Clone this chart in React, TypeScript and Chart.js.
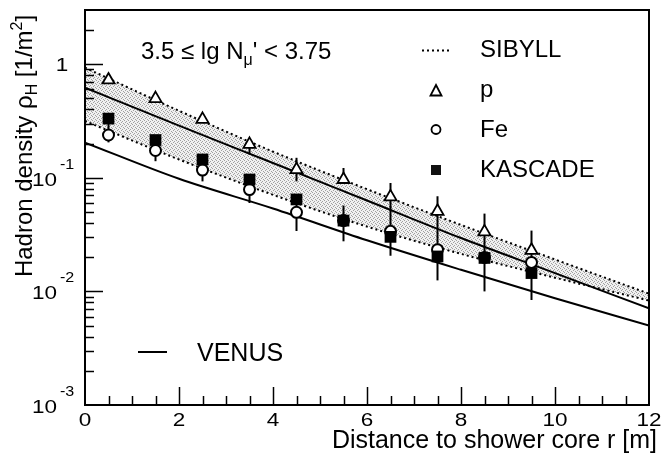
import React, { useEffect, useRef } from 'react';
import { Chart, registerables } from 'chart.js';

Chart.register(...registerables);

// ---------- data ----------
const rKnots = [0, 2, 4, 6, 8, 10, 12];
const sibyllP = [0.933, 0.389, 0.17, 0.0794, 0.0385, 0.0191, 0.00955];
const sibyllFe = [0.316, 0.145, 0.0708, 0.0372, 0.0214, 0.0132, 0.0083];
const venusP = [0.62, 0.288, 0.135, 0.0631, 0.0295, 0.0145, 0.00708];
const venusFe = [0.204, 0.098, 0.0537, 0.0282, 0.0155, 0.0087, 0.005];

const rData = [0.5, 1.5, 2.5, 3.5, 4.5, 5.5, 6.5, 7.5, 8.5, 9.5];
const pVals = [0.727, 0.498, 0.327, 0.197, 0.118, 0.0966, 0.068, 0.0507, 0.0334, 0.023];
const feVals = [0.238, 0.174, 0.117, 0.0788, 0.0497, 0.042, 0.0338, 0.0233, 0.0199, 0.018];
const kasVals = [0.332, 0.215, 0.145, 0.0966, 0.0645, 0.042, 0.0302, 0.0203, 0.0197, 0.0145];
const kasHi = [0.34, 0.22, 0.15, 0.1, 0.068, 0.057, 0.056, 0.0688, 0.0484, 0.0343];
const kasLo = [0.205, 0.14, 0.093, 0.06, 0.034, 0.0276, 0.0206, 0.0125, 0.01, 0.0084];
const pHi = [null, null, null, 0.21, 0.15, 0.122, 0.09, null, null, null];
const pLo = [null, null, null, 0.16, 0.093, 0.09, 0.055, null, null, null];

const xTickLabels = ['0', '2', '4', '6', '8', '10', '12'];
const xTickValues = [0, 2, 4, 6, 8, 10, 12];
const yDecades = [1, 0.1, 0.01, 0.001];
const yDecadeExp = ['', '-1', '-2', '-3'];

const X_MIN = 0;
const X_MAX = 12;
const Y_MIN = 0.001;
const Y_MAX = 3;

const FONT = "'Liberation Sans', Arial, Helvetica, sans-serif";

type Part = { t: string; s: number; dy: number };

function richWidth(ctx: CanvasRenderingContext2D, parts: Part[]) {
  let w = 0;
  for (const p of parts) {
    ctx.font = `${p.s}px ${FONT}`;
    w += ctx.measureText(p.t).width;
  }
  return w;
}

function drawRich(ctx: CanvasRenderingContext2D, parts: Part[], x: number, y: number, align: 'left' | 'center' | 'right') {
  const w = richWidth(ctx, parts);
  let cx = align === 'left' ? x : align === 'center' ? x - w / 2 : x - w;
  ctx.textAlign = 'left';
  ctx.textBaseline = 'alphabetic';
  for (const p of parts) {
    ctx.font = `${p.s}px ${FONT}`;
    ctx.fillText(p.t, cx, y + p.dy);
    cx += ctx.measureText(p.t).width;
  }
}

function makePattern(): CanvasPattern | string {
  const c = document.createElement('canvas');
  c.width = 4;
  c.height = 4;
  const g = c.getContext('2d');
  if (!g) return '#dcdcdc';
  g.fillStyle = '#f0f0f0';
  g.fillRect(0, 0, 4, 4);
  g.fillStyle = '#a0a0a0';
  const dots = [[0, 0], [2, 1], [1, 2], [3, 3]];
  for (const [px, py] of dots) g.fillRect(px, py, 1, 1);
  const pat = g.createPattern(c, 'repeat');
  return pat || '#dcdcdc';
}

const decoPlugin = {
  id: 'deco',
  beforeDatasetsDraw(chart: any) {
    const ctx: CanvasRenderingContext2D = chart.ctx;
    const xs = chart.scales.x;
    const ys = chart.scales.y;
    ctx.save();
    ctx.strokeStyle = '#000';
    ctx.lineWidth = 2;
    const bar = (x: number, hi: number | null, lo: number | null) => {
      if (hi == null || lo == null) return;
      const px = xs.getPixelForValue(x);
      ctx.beginPath();
      ctx.moveTo(px, ys.getPixelForValue(hi));
      ctx.lineTo(px, ys.getPixelForValue(lo));
      ctx.stroke();
    };
    rData.forEach((r, i) => {
      bar(r, kasHi[i], kasLo[i]);
      bar(r, pHi[i], pLo[i]);
    });
    ctx.restore();
  },
  afterDraw(chart: any) {
    const ctx: CanvasRenderingContext2D = chart.ctx;
    const xs = chart.scales.x;
    const ys = chart.scales.y;
    const a = chart.chartArea;
    ctx.save();
    ctx.strokeStyle = '#000';
    ctx.fillStyle = '#000';

    // frame
    ctx.lineWidth = 2;
    ctx.strokeRect(a.left, a.top, a.right - a.left, a.bottom - a.top);

    // x ticks (inward)
    ctx.lineWidth = 1.5;
    for (let v = X_MIN + 0.5; v < X_MAX; v += 0.5) {
      const px = Math.round(xs.getPixelForValue(v)) + 0.5;
      const len = v % 2 === 0 ? 18 : 9;
      ctx.beginPath();
      ctx.moveTo(px, a.bottom);
      ctx.lineTo(px, a.bottom - len);
      ctx.stroke();
    }
    // y ticks (inward)
    for (const d of [0.001, 0.01, 0.1, 1]) {
      for (let k = 1; k <= 9; k++) {
        const v = d * k;
        if (v >= Y_MAX || v <= Y_MIN) continue;
        const py = Math.round(ys.getPixelForValue(v)) + 0.5;
        const len = k === 1 ? 18 : 9;
        ctx.beginPath();
        ctx.moveTo(a.left, py);
        ctx.lineTo(a.left + len, py);
        ctx.stroke();
      }
    }

    // x tick labels
    ctx.textAlign = 'center';
    ctx.textBaseline = 'middle';
    ctx.font = `18px ${FONT}`;
    xTickValues.forEach((v, i) => {
      const px = xs.getPixelForValue(v);
      ctx.save();
      ctx.translate(px, 421);
      ctx.scale(1.25, 1);
      ctx.fillText(xTickLabels[i], 0, 0);
      ctx.restore();
    });

    // y tick labels
    yDecades.forEach((v, i) => {
      const py = ys.getPixelForValue(v);
      if (yDecadeExp[i] === '') {
        ctx.save();
        ctx.font = `18px ${FONT}`;
        ctx.textAlign = 'center';
        ctx.textBaseline = 'middle';
        ctx.translate(62, py + 2);
        ctx.scale(1.25, 1);
        ctx.fillText('1', 0, 0);
        ctx.restore();
      } else {
        ctx.save();
        ctx.font = `18px ${FONT}`;
        ctx.textAlign = 'right';
        ctx.textBaseline = 'middle';
        ctx.translate(57, py + 3);
        ctx.scale(1.25, 1);
        ctx.fillText('10', 0, 0);
        ctx.restore();
        ctx.save();
        ctx.font = `14px ${FONT}`;
        ctx.textAlign = 'left';
        ctx.textBaseline = 'middle';
        ctx.translate(60, py - 13);
        ctx.scale(1.15, 1);
        ctx.fillText(yDecadeExp[i], 0, 0);
        ctx.restore();
      }
    });

    // x axis title
    drawRich(ctx, [{ t: 'Distance to shower core r [m]', s: 25, dy: 0 }], 657, 448, 'right');

    // y axis title (rotated)
    ctx.save();
    ctx.translate(23, 146);
    ctx.rotate(-Math.PI / 2);
    drawRich(
      ctx,
      [
        { t: 'Hadron density \u03C1', s: 24, dy: 0 },
        { t: 'H', s: 16, dy: 5 },
        { t: ' [1/m', s: 24, dy: 0 },
        { t: '2', s: 16, dy: -10 },
        { t: ']', s: 24, dy: 0 },
      ],
      0,
      8.5,
      'center'
    );
    ctx.restore();

    // in-plot title
    drawRich(
      ctx,
      [
        { t: '3.5 \u2264 lg N', s: 24, dy: 0 },
        { t: '\u03BC', s: 16, dy: 6 },
        { t: "' < 3.75", s: 24, dy: 0 },
      ],
      141,
      58.5,
      'left'
    );

    // legend
    const lx = 436;
    const tx = 480;
    ctx.save();
    ctx.lineWidth = 2;
    ctx.setLineDash([2, 3]);
    ctx.beginPath();
    ctx.moveTo(422, 50.5);
    ctx.lineTo(451, 50.5);
    ctx.stroke();
    ctx.restore();
    drawRich(ctx, [{ t: 'SIBYLL', s: 24, dy: 0 }], tx, 57, 'left');
    ctx.save();
    ctx.lineWidth = 1.8;
    ctx.beginPath();
    ctx.moveTo(lx, 85);
    ctx.lineTo(lx + 5.5, 95.5);
    ctx.lineTo(lx - 5.5, 95.5);
    ctx.closePath();
    ctx.stroke();
    ctx.restore();
    drawRich(ctx, [{ t: 'p', s: 24, dy: 0 }], tx, 97, 'left');
    ctx.save();
    ctx.lineWidth = 1.8;
    ctx.beginPath();
    ctx.arc(lx, 129.5, 4.5, 0, Math.PI * 2);
    ctx.stroke();
    ctx.restore();
    drawRich(ctx, [{ t: 'Fe', s: 24, dy: 0 }], tx, 137, 'left');
    ctx.fillStyle = '#111';
    ctx.fillRect(lx - 5, 165, 10, 10);
    ctx.fillStyle = '#000';
    drawRich(ctx, [{ t: 'KASCADE', s: 24, dy: 0 }], tx, 177, 'left');
    ctx.save();
    ctx.lineWidth = 2;
    ctx.beginPath();
    ctx.moveTo(138, 352);
    ctx.lineTo(167, 352);
    ctx.stroke();
    ctx.restore();
    drawRich(ctx, [{ t: 'VENUS', s: 25, dy: 0 }], 197, 361, 'left');

    ctx.restore();
  },
};

export default function App() {
  const ref = useRef<HTMLCanvasElement | null>(null);

  useEffect(() => {
    if (!ref.current) return;
    const pattern = makePattern();
    const curve = (ys: number[]) => rKnots.map((x, i) => ({ x, y: ys[i] }));
    const pts = (ys: number[]) => rData.map((x, i) => ({ x, y: ys[i] }));

    const chart = new Chart(ref.current, {
      type: 'line',
      data: {
        datasets: [
          {
            label: 'KASCADE',
            data: pts(kasVals),
            showLine: false,
            pointStyle: 'rect',
            pointRadius: 8.3,
            pointBorderWidth: 0,
            pointBorderColor: '#000',
            pointBackgroundColor: '#000',
            order: 1,
          },
          {
            label: 'Fe',
            data: pts(feVals),
            showLine: false,
            pointStyle: 'circle',
            pointRadius: 5.5,
            pointBorderWidth: 2,
            pointBorderColor: '#000',
            pointBackgroundColor: '#fff',
            order: 2,
          },
          {
            label: 'p',
            data: pts(pVals),
            showLine: false,
            pointStyle: 'triangle',
            pointRadius: 7,
            pointBorderWidth: 1.8,
            pointBorderColor: '#000',
            pointBackgroundColor: '#fff',
            order: 3,
          },
          {
            label: 'VENUS p',
            data: curve(venusP),
            borderColor: '#000',
            borderWidth: 2,
            pointRadius: 0,
            cubicInterpolationMode: 'monotone',
            fill: false,
            order: 4,
          },
          {
            label: 'VENUS Fe',
            data: curve(venusFe),
            borderColor: '#000',
            borderWidth: 2,
            pointRadius: 0,
            cubicInterpolationMode: 'monotone',
            fill: false,
            order: 5,
          },
          {
            label: 'SIBYLL p',
            data: curve(sibyllP),
            borderColor: '#000',
            borderWidth: 2,
            borderDash: [2, 3],
            pointRadius: 0,
            cubicInterpolationMode: 'monotone',
            fill: '+1',
            backgroundColor: pattern as any,
            order: 6,
          },
          {
            label: 'SIBYLL Fe',
            data: curve(sibyllFe),
            borderColor: '#000',
            borderWidth: 2,
            borderDash: [2, 3],
            pointRadius: 0,
            cubicInterpolationMode: 'monotone',
            fill: false,
            order: 7,
          },
        ],
      },
      options: {
        animation: false,
        responsive: false,
        devicePixelRatio: 1,
        layout: { padding: { left: 85, right: 20, top: 10, bottom: 50 } },
        scales: {
          x: { type: 'linear', min: X_MIN, max: X_MAX, display: false },
          y: { type: 'logarithmic', min: Y_MIN, max: Y_MAX, display: false },
        },
        plugins: {
          legend: { display: false },
          tooltip: { enabled: false },
          filler: { drawTime: 'beforeDatasetsDraw' },
        },
      },
      plugins: [decoPlugin],
    });
    return () => chart.destroy();
  }, []);

  return (
    <canvas
      ref={ref}
      width={669}
      height={455}
      style={{ position: 'absolute', left: 0, top: 0, width: 669, height: 455, background: '#fff' }}
    />
  );
}
